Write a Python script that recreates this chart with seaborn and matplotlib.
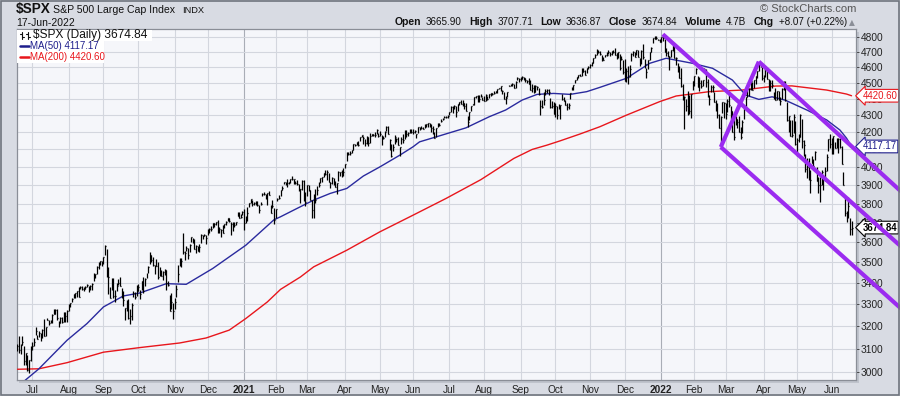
import numpy as np
import pandas as pd
import matplotlib
matplotlib.use("Agg")
import matplotlib.pyplot as plt
import seaborn as sns
from matplotlib.patches import Rectangle
from matplotlib.lines import Line2D
from matplotlib.ticker import FixedLocator, FixedFormatter, NullLocator

# ---------------- calendar (NYSE holidays in the charted span) ----------------
holidays = ["2020-07-03", "2020-09-07", "2020-11-26", "2020-12-25", "2021-01-01",
            "2021-01-18", "2021-02-15", "2021-04-02", "2021-05-31", "2021-07-05",
            "2021-09-06", "2021-11-25", "2021-12-24", "2022-01-17", "2022-02-21",
            "2022-04-15", "2022-05-30", "2022-06-20", "2022-07-04"]
first_day = "2020-06-18"

# ---------------- daily closes (one row per month) ----------------
close = [
    3115, 3097, 3117, 3131, 3050, 3083, 3009, 3053, 3100,
    3115, 3130, 3179, 3145, 3169, 3152, 3185, 3155, 3197, 3227, 3215, 3224, 3251, 3257, 3276, 3236, 3215, 3239, 3218, 3258, 3246, 3271,
    3295, 3306, 3327, 3349, 3351, 3360, 3333, 3380, 3373, 3373, 3381, 3390, 3375, 3385, 3397, 3431, 3443, 3478, 3485, 3508, 3500,
    3527, 3580, 3455, 3427, 3331, 3399, 3339, 3341, 3384, 3401, 3385, 3357, 3319, 3281, 3315, 3237, 3247, 3298, 3351, 3335, 3363,
    3381, 3348, 3408, 3361, 3419, 3447, 3477, 3534, 3512, 3489, 3483, 3484, 3427, 3444, 3436, 3453, 3465, 3401, 3391, 3271, 3310, 3270,
    3310, 3370, 3443, 3510, 3509, 3551, 3546, 3573, 3537, 3585, 3627, 3610, 3568, 3582, 3558, 3578, 3636, 3630, 3638, 3622,
    3662, 3669, 3666, 3699, 3692, 3703, 3673, 3668, 3663, 3647, 3695, 3702, 3722, 3709, 3695, 3687, 3690, 3703, 3735, 3727, 3732, 3756,
    3701, 3727, 3749, 3804, 3825, 3799, 3801, 3810, 3795, 3768, 3798, 3851, 3853, 3841, 3855, 3849, 3751, 3788, 3714,
    3774, 3826, 3830, 3872, 3887, 3915, 3912, 3910, 3916, 3934, 3933, 3932, 3914, 3907, 3877, 3881, 3925, 3829, 3811,
    3901, 3871, 3820, 3768, 3842, 3821, 3875, 3899, 3939, 3943, 3969, 3962, 3974, 3915, 3913, 3941, 3911, 3890, 3910, 3975, 3971, 3959, 3973,
    4020, 4078, 4074, 4080, 4097, 4129, 4128, 4142, 4124, 4170, 4185, 4164, 4135, 4173, 4135, 4180, 4187, 4186, 4183, 4211, 4181,
    4192, 4165, 4168, 4202, 4233, 4189, 4153, 4063, 4113, 4174, 4163, 4128, 4116, 4160, 4156, 4198, 4188, 4196, 4201, 4204,
    4202, 4208, 4192, 4230, 4227, 4228, 4220, 4239, 4247, 4255, 4247, 4224, 4222, 4166, 4224, 4246, 4242, 4266, 4281, 4291, 4291, 4298,
    4320, 4352, 4344, 4358, 4320, 4369, 4385, 4369, 4375, 4360, 4327, 4259, 4323, 4359, 4368, 4412, 4422, 4401, 4400, 4419, 4395,
    4387, 4423, 4402, 4429, 4437, 4432, 4436, 4447, 4460, 4468, 4480, 4448, 4400, 4406, 4442, 4480, 4486, 4497, 4470, 4509, 4529, 4523,
    4524, 4537, 4535, 4520, 4514, 4493, 4459, 4469, 4444, 4481, 4474, 4433, 4358, 4354, 4396, 4449, 4455, 4443, 4353, 4360, 4308,
    4357, 4300, 4346, 4364, 4399, 4391, 4361, 4351, 4364, 4438, 4471, 4486, 4520, 4536, 4549, 4545, 4567, 4575, 4551, 4597, 4605,
    4614, 4631, 4660, 4680, 4697, 4701, 4686, 4647, 4650, 4683, 4683, 4701, 4689, 4705, 4698, 4682, 4691, 4701, 4595, 4655, 4567,
    4513, 4577, 4538, 4592, 4686, 4701, 4667, 4712, 4669, 4634, 4709, 4669, 4621, 4568, 4649, 4697, 4726, 4791, 4786, 4793, 4778, 4766,
    4797, 4794, 4701, 4696, 4677, 4670, 4713, 4726, 4660, 4663, 4577, 4533, 4483, 4398, 4410, 4357, 4350, 4327, 4432, 4516,
    4546, 4589, 4477, 4501, 4484, 4522, 4587, 4504, 4419, 4402, 4472, 4475, 4380, 4349, 4305, 4226, 4288, 4385, 4374,
    4306, 4387, 4364, 4329, 4201, 4171, 4278, 4260, 4204, 4173, 4262, 4358, 4412, 4463, 4461, 4512, 4457, 4520, 4543, 4576, 4632, 4602, 4530,
    4546, 4583, 4526, 4481, 4500, 4488, 4413, 4397, 4447, 4392, 4391, 4463, 4460, 4394, 4272, 4297, 4176, 4183, 4288, 4132,
    4155, 4175, 4300, 4147, 4123, 3991, 4001, 3935, 3930, 4024, 4008, 4088, 3924, 3901, 3901, 3974, 3941, 3979, 4058, 4158, 4132,
    4101, 4177, 4109, 4121, 4161, 4116, 4018, 3901, 3750, 3735, 3790, 3667, 3674.84,
]
# daily high above close
up = [
    5, 58, 3, 24, 62, 1, 64, 1, 11,
    15, 20, 19, 17, 10, 18, 5, 80, 2, 11, 12, 5, 4, 20, 3, 44, 11, 2, 22, 6, 20, 1,
    7, 1, 3, 1, 1, 3, 48, 7, 14, 8, 6, 5, 13, 4, 2, 18, 1, 2, 16, 1, 8,
    1, 8, 109, 52, 48, 25, 86, 27, 18, 18, 43, 18, 43, 4, 5, 86, 32, 8, 9, 22, 30,
    16, 21, 1, 70, 7, 0, 6, 16, 22, 39, 3, 31, 75, 32, 28, 7, 1, 63, 18, 71, 41, 34,
    20, 19, 43, 11, 12, 95, 11, 8, 32, 8, 1, 14, 51, 4, 24, 11, 6, 5, 6, 15,
    7, 2, 16, 1, 5, 3, 40, 11, 5, 40, 0, 9, 3, 17, 7, 15, 12, 3, 21, 29, 12, 4,
    69, 8, 34, 2, 1, 18, 10, 5, 21, 24, 12, 8, 8, 12, 4, 21, 44, 32, 64,
    0, 4, 17, 0, 7, 0, 5, 22, 1, 0, 17, 0, 7, 23, 30, 0, 3, 99, 50,
    0, 32, 52, 50, 9, 60, 20, 19, 2, 0, 0, 20, 7, 53, 3, 4, 31, 33, 3, 3, 4, 27, 22,
    0, 5, 12, 10, 0, 0, 2, 0, 26, 3, 0, 16, 24, 3, 38, 14, 4, 5, 18, 7, 17,
    17, 21, 11, 6, 4, 49, 9, 71, 18, 9, 5, 44, 0, 12, 32, 15, 25, 6, 17, 13,
    17, 8, 0, 3, 5, 8, 13, 10, 2, 0, 5, 27, 13, 38, 0, 9, 13, 13, 5, 4, 8, 4,
    0, 3, 12, 3, 38, 2, 0, 24, 19, 18, 48, 37, 0, 0, 0, 3, 0, 27, 25, 11, 17,
    35, 6, 14, 0, 3, 4, 14, 1, 1, 0, 0, 11, 43, 12, 2, 9, 6, 4, 21, 4, 8, 8,
    13, 8, 6, 15, 8, 36, 62, 28, 42, 4, 10, 38, 36, 40, 45, 16, 10, 21, 54, 29, 74,
    18, 59, 23, 2, 30, 21, 31, 23, 11, 1, 4, 0, 0, 4, 2, 14, 31, 23, 33, 0, 3,
    7, 5, 3, 4, 22, 13, 18, 32, 15, 0, 14, 13, 13, 0, 12, 43, 4, 1, 91, 17, 79,
    139, 18, 70, 20, 9, 5, 31, 1, 41, 26, 4, 82, 31, 28, 0, 1, 10, 0, 22, 11, 9, 20,
    3, 24, 85, 28, 31, 3, 1, 22, 80, 3, 53, 78, 112, 95, 7, 44, 103, 101, 0, 0,
    0, 6, 65, 38, 36, 0, 8, 83, 107, 24, 17, 14, 63, 45, 72, 80, 7, 0, 10,
    67, 14, 65, 30, 127, 131, 21, 19, 90, 59, 9, 0, 3, 1, 10, 1, 50, 0, 3, 0, 5, 24, 75,
    3, 10, 67, 46, 21, 33, 30, 74, 5, 55, 19, 6, 53, 118, 113, 0, 94, 92, 20, 137,
    14, 12, 7, 129, 34, 85, 48, 114, 52, 38, 39, 2, 75, 44, 45, 7, 10, 21, 17, 0, 60,
    65, 0, 34, 47, 3, 48, 101, 73, 88, 27, 47, 56, 32.87,
]
# daily low below close
dn = [
    22, 14, 38, 14, 17, 50, 5, 54, 53,
    20, 15, 20, 2, 15, 19, 38, 0, 42, 0, 7, 7, 35, 0, 20, 7, 16, 25, 3, 40, 26, 50,
    25, 19, 17, 20, 22, 27, 0, 10, 6, 11, 11, 10, 18, 20, 28, 22, 17, 35, 19, 19, 19,
    33, 44, 28, 78, 2, 33, 10, 31, 21, 12, 1, 29, 26, 52, 45, 5, 38, 70, 19, 8, 23,
    20, 24, 41, 7, 35, 22, 31, 42, 11, 9, 42, 0, 8, 10, 4, 37, 25, 35, 3, 2, 33, 37,
    31, 34, 38, 26, 32, 8, 35, 16, 19, 33, 26, 16, 1, 38, 2, 25, 41, 13, 8, 29,
    27, 21, 7, 26, 14, 16, 28, 23, 37, 1, 20, 12, 13, 6, 59, 30, 14, 14, 1, 2, 10, 15,
    38, 27, 38, 19, 20, 11, 10, 16, 7, 19, 4, 8, 7, 16, 64, 0, 1, 11, 20,
    49, 12, 6, 31, 16, 9, 9, 20, 11, 20, 4, 27, 9, 8, 9, 76, 52, 15, 22,
    58, 3, 3, 45, 119, 15, 28, 11, 26, 28, 25, 7, 45, 0, 28, 37, 9, 0, 57, 53, 18, 15, 20,
    27, 43, 6, 13, 16, 33, 10, 15, 2, 23, 13, 32, 16, 42, 17, 40, 9, 6, 9, 23, 7,
    15, 38, 9, 31, 25, 0, 57, 7, 22, 43, 21, 0, 55, 31, 17, 40, 15, 16, 6, 9,
    12, 10, 25, 37, 11, 7, 3, 11, 18, 21, 15, 21, 33, 2, 51, 17, 6, 5, 11, 9, 8, 12,
    20, 32, 30, 21, 30, 44, 20, 0, 16, 21, 0, 26, 49, 32, 6, 48, 13, 20, 16, 6, 1,
    0, 37, 5, 23, 16, 8, 6, 11, 20, 5, 31, 14, 0, 39, 30, 0, 5, 13, 2, 43, 8, 18,
    10, 13, 17, 12, 15, 1, 2, 24, 8, 37, 20, 6, 53, 10, 30, 22, 20, 16, 7, 14, 0,
    68, 21, 8, 85, 4, 4, 0, 15, 25, 40, 16, 27, 21, 18, 17, 2, 20, 6, 3, 34, 14,
    19, 24, 34, 21, 15, 10, 6, 9, 1, 14, 7, 16, 14, 27, 5, 3, 38, 38, 9, 10, 7,
    2, 69, 43, 54, 46, 29, 3, 31, 0, 27, 86, 18, 23, 37, 62, 50, 29, 33, 0, 4, 0, 0,
    31, 19, 0, 25, 13, 89, 43, 21, 0, 49, 5, 2, 10, 4, 188, 30, 45, 18, 145, 60,
    63, 30, 5, 51, 17, 42, 3, 26, 6, 38, 29, 30, 1, 22, 20, 2, 174, 72, 90,
    27, 65, 10, 51, 0, 14, 33, 37, 0, 12, 69, 81, 76, 50, 39, 55, 0, 52, 50, 44, 56, 0, 13,
    39, 45, 2, 31, 50, 20, 13, 3, 53, 0, 30, 60, 4, 4, 4, 97, 0, 13, 90, 4,
    93, 34, 126, 41, 61, 16, 64, 6, 72, 1, 5, 48, 1, 41, 91, 74, 66, 58, 80, 69, 25,
    27, 103, 2, 12, 81, 6, 1, 1, 15, 30, 68, 28, 37.97,
]

# ---------------- moving averages ----------------
ma50_dates = ["2020-06-18", "2020-07-08", "2020-07-31", "2020-08-18", "2020-09-01", "2020-09-18",
              "2020-10-02", "2020-10-26", "2020-11-11", "2020-12-04", "2021-01-05", "2021-01-29",
              "2021-02-04", "2021-02-19", "2021-03-05", "2021-03-19", "2021-04-05", "2021-04-19",
              "2021-05-03", "2021-05-19", "2021-06-01", "2021-06-07", "2021-06-18", "2021-07-16",
              "2021-08-05", "2021-08-19", "2021-09-02", "2021-09-16", "2021-09-30", "2021-10-14",
              "2021-10-28", "2021-11-09", "2021-12-02", "2021-12-22", "2022-01-06", "2022-01-31",
              "2022-02-16", "2022-03-07", "2022-03-17", "2022-03-29", "2022-04-08", "2022-04-21",
              "2022-05-10", "2022-05-26", "2022-06-08", "2022-06-14", "2022-06-17"]
ma50 = [2940, 3015, 3138, 3212, 3288, 3339,
        3353, 3397, 3394, 3470, 3585, 3715,
        3731, 3775, 3819, 3855, 3882, 3950,
        4001, 4067, 4115, 4144, 4170, 4226,
        4292, 4333, 4394, 4429, 4435, 4429,
        4446, 4473, 4530, 4626, 4659, 4626,
        4594, 4519, 4425, 4398, 4414, 4393,
        4333, 4273, 4213, 4165, 4117.17]
ma200_dates = ["2020-06-18", "2020-07-08", "2020-07-31", "2020-09-01", "2020-10-02", "2020-11-05",
               "2020-11-30", "2020-12-18", "2021-01-05", "2021-01-25", "2021-02-04", "2021-02-23",
               "2021-03-05", "2021-04-05", "2021-05-03", "2021-06-01", "2021-06-29", "2021-07-29",
               "2021-08-26", "2021-09-13", "2021-09-24", "2021-10-06", "2021-10-22", "2021-11-09",
               "2021-12-02", "2021-12-31", "2022-01-14", "2022-02-14", "2022-03-15", "2022-04-12",
               "2022-04-27", "2022-05-26", "2022-06-14", "2022-06-17"]
ma200 = [3013, 3015, 3041, 3086, 3106, 3126,
         3148, 3183, 3235, 3311, 3370, 3429,
         3478, 3560, 3653, 3739, 3828, 3930,
         4049, 4100, 4125, 4150, 4190, 4233,
         4302, 4384, 4419, 4446, 4456, 4481,
         4482, 4456, 4431, 4420.60]

# ---------------- pitchfork annotation lines ----------------
fork_start_dates = ["2022-01-04", "2022-02-24", "2022-02-24", "2022-03-29"]
fork_start_price = [4818, 4114, 4114, 4637]
fork_end_dates = ["2022-08-02", "2022-03-29", "2022-08-02", "2022-08-02"]
fork_end_price = [3578, 4637, 3280, 3865]

# ---------------- axis labels / header ----------------
price_ticks = [3000, 3100, 3200, 3300, 3400, 3500, 3600, 3700, 3800, 3900,
               4000, 4100, 4200, 4300, 4400, 4500, 4600, 4700, 4800]
month_labels = ["Jul", "Aug", "Sep", "Oct", "Nov", "Dec", "2021", "Feb", "Mar", "Apr", "May", "Jun",
                "Jul", "Aug", "Sep", "Oct", "Nov", "Dec", "2022", "Feb", "Mar", "Apr", "May", "Jun"]
hdr_labels = ["Open", "High", "Low", "Close", "Volume", "Chg"]
hdr_values = ["3665.90", "3707.71", "3636.87", "3674.84", "4.7B", "+8.07 (+0.22%)"]
chart_date = "17-Jun-2022"
ma50_last, ma200_last = 4117.17, 4420.60

# ---------------- figure ----------------
sns.set_theme(style="white")
plt.rcParams["font.family"] = ["Liberation Sans", "DejaVu Sans"]

W, H = 900, 396
BG = "#d8dbe3"
fig = plt.figure(figsize=(W / 100, H / 100), dpi=100, facecolor=BG)
L, R, T, B = 16.5, 856, 29.3, 380
ax = fig.add_axes([L / W, 1 - B / H, (R - L) / W, (B - T) / H])
ax.set_facecolor("#f5f6fa")

# shadow behind the chart panel
fig.patches.append(Rectangle(((L + 2) / W, 1 - (B + 3) / H), (R - L + 1) / W, (B - T) / H,
                             transform=fig.transFigure, fc="#bfc3cc", ec="none", zorder=-1))

tdays = pd.bdate_range(first_day, "2022-08-15", freq="C", holidays=holidays)
n = len(close)
assert len(up) == n and len(dn) == n, (n, len(up), len(dn))
dates = tdays[:n]
assert dates[-1] == pd.Timestamp("2022-06-17"), (n, dates[-1])
xs = np.arange(n)


def pos(ds):
    return tdays.searchsorted(pd.to_datetime(ds))


c = np.asarray(close, float)
hi = c + np.asarray(up, float)
lo = c - np.asarray(dn, float)

# moving averages
sns.lineplot(x=pos(ma200_dates), y=ma200, ax=ax, color="#e8161c", lw=1.0, zorder=3)
sns.lineplot(x=pos(ma50_dates), y=ma50, ax=ax, color="#2a2a9e", lw=1.0, zorder=3)

# OHLC style bars (high-low with close tick)
ax.vlines(xs, lo, hi, color="black", lw=0.9, zorder=4)
ax.hlines(c, xs, xs + 0.6, color="black", lw=0.9, zorder=4)

# pitchfork
for d0, p0, d1, p1 in zip(fork_start_dates, fork_start_price, fork_end_dates, fork_end_price):
    ax.plot([pos([d0])[0], pos([d1])[0]], [p0, p1], color="#9b2bf0", lw=3.0,
            solid_capstyle="butt", clip_on=False, zorder=10)

ax.set_yscale("log")
ax.set_ylim(2968, 4852)
ax.set_xlim(-0.55, 506.7)

ax.yaxis.tick_right()
ax.yaxis.set_major_locator(FixedLocator(price_ticks))
ax.yaxis.set_major_formatter(FixedFormatter([str(v) for v in price_ticks]))
ax.yaxis.set_minor_locator(NullLocator())

month_pos = np.flatnonzero(np.r_[False, dates.month[1:] != dates.month[:-1]])
assert len(month_pos) == len(month_labels)
ax.set_xticks(month_pos)
ax.set_xticklabels(month_labels)

ax.grid(True, color="#d3d6de", lw=0.8)
ax.set_axisbelow(True)
for gl, lab in zip(ax.get_xgridlines(), month_labels):
    if lab.isdigit():
        gl.set_color("#a9adb6")
for tl in ax.get_xticklabels():
    if tl.get_text().isdigit():
        tl.set_fontweight("bold")
        tl.set_fontsize(8.2)

ax.tick_params(axis="x", length=0, pad=3.5, labelsize=7.3, colors="#222222")
ax.tick_params(axis="y", direction="out", length=2, width=0.6, pad=1.5, labelsize=7.3,
               colors="#333333", labelcolor="#222222")
for sp in ax.spines.values():
    sp.set_color("#8a8e97")
    sp.set_linewidth(0.9)
ax.set_xlabel("")
ax.set_ylabel("")


# price tags on right axis (they sit over the tick labels, as in the original)
def tag(val, txt, color, bold=False):
    ax.annotate(txt, xy=(1, val), xycoords=("axes fraction", "data"), xytext=(4.6, 0),
                textcoords="offset points", ha="left", va="center", fontsize=6.9,
                color=color, fontweight="bold" if bold else "normal",
                bbox=dict(boxstyle="larrow,pad=0.14", fc="white", ec=color, lw=0.8),
                annotation_clip=False, zorder=7)


tag(ma200_last, f"{ma200_last:.2f}", "#e8161c")
tag(ma50_last, f"{ma50_last:.2f}", "#1e1e8c")
tag(c[-1], f"{c[-1]:.2f}", "black", bold=True)


# ---------------- header ----------------
def px(x, y):
    return x / W, 1 - y / H


fig.text(*px(16, 13.3), "$SPX", fontsize=9.8, fontweight="bold", color="#111111",
         va="baseline", ha="left")
fig.text(*px(53, 13.3), "S&P 500 Large Cap Index", fontsize=7.6, va="baseline", ha="left",
         color="#111111")
fig.text(*px(182, 13.3), "INDX", fontsize=6.7, va="baseline", ha="left", color="#111111")
fig.text(*px(16, 22.7), chart_date, fontsize=7.5, va="center", ha="left", color="#111111")

# right-hand quote line, laid out from the right end leftwards
pieces = []
for lab, val in zip(hdr_labels, hdr_values):
    pieces.append((lab, True))
    pieces.append((val, False))
prev = None
for k, (s, bold) in enumerate(reversed(pieces)):
    kw = dict(fontsize=7.5 if bold else 7.1, fontweight="bold" if bold else "normal",
              va="bottom", ha="right", color="#111111")
    if prev is None:
        prev = fig.text(*px(846.7, 27.3), s, **kw)
    else:
        gap = 3.3 if bold else 5.4   # label->value gap, value->next label gap
        prev = ax.annotate(s, xy=(0, 0), xycoords=prev, xytext=(-gap, 0),
                           textcoords="offset points", annotation_clip=False, **kw)
fig.text(*px(852, 22.7), "\u25b2", fontsize=5.5, color="#8a8e97", va="center", ha="center",
         family=["DejaVu Sans"])
fig.text(*px(856, 9.3), "\u00a9 StockCharts.com", fontsize=8, color="#555555",
         va="center", ha="right")

# ---------------- legend rows ----------------
for (x0, y0, x1, y1) in [(17, 30, 152, 40.5), (17, 40.5, 104, 63)]:
    fig.patches.append(Rectangle(px(x0, y1), (x1 - x0) / W, (y1 - y0) / H,
                                 transform=fig.transFigure, fc="white", ec="none", zorder=5))
# bar icon
for bx in (22.0, 28.0):
    for seg in [((bx, bx), (31.8, 38.6)), ((bx - 1.8, bx), (33.5, 33.5)), ((bx, bx + 1.8), (37.0, 37.0))]:
        fig.add_artist(Line2D([seg[0][0] / W, seg[0][1] / W], [1 - seg[1][0] / H, 1 - seg[1][1] / H],
                              transform=fig.transFigure, color="#111111", lw=0.8, zorder=6))
fig.text(*px(33, 34.6), f"$SPX (Daily) {c[-1]:.2f}", fontsize=8.6, va="center", ha="left",
         color="#111111", zorder=6)
for yy, col, txt in [(45.9, "#1e1e8c", f"MA(50) {ma50_last:.2f}"),
                     (57.4, "#e8161c", f"MA(200) {ma200_last:.2f}")]:
    fig.add_artist(Line2D([19.5 / W, 28.5 / W], [1 - yy / H, 1 - yy / H], transform=fig.transFigure,
                          color=col, lw=1.8, zorder=6))
    fig.text(*px(29.5, yy), txt, fontsize=7.0, va="center", ha="left", color=col, zorder=6)

# outer frame
fig.patches.append(Rectangle((0.75 / W, 0.75 / H), (W - 1.5) / W, (H - 1.5) / H,
                             transform=fig.transFigure, fill=False, ec="#6f747d", lw=1.2, zorder=20))

fig.savefig("out.png", dpi=100, facecolor=BG)
